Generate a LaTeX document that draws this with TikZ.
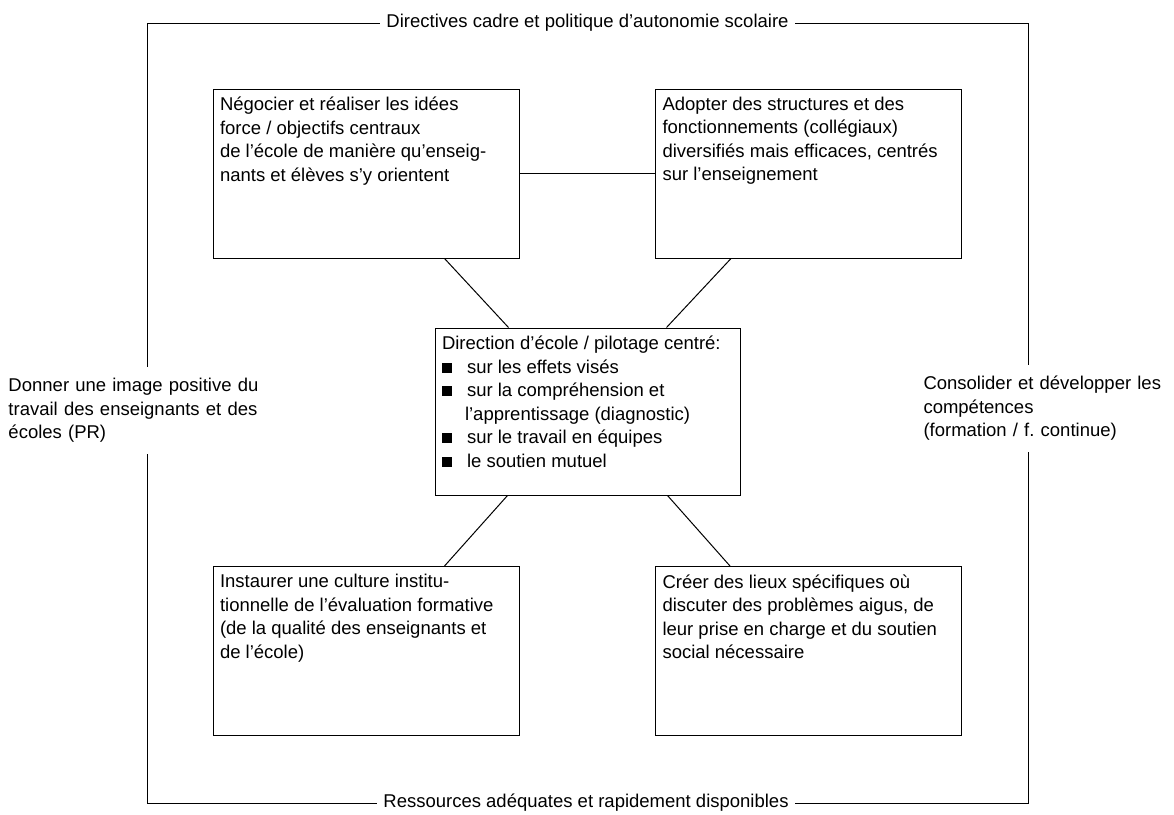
\documentclass[tikz,border=0pt]{standalone}
\usepackage{fontspec}
\setmainfont{Liberation Sans}
\newcommand{\boxtxt}[1]{\parbox[c][153pt][t]{292pt}{\raggedright #1}}
\newcommand{\sqitem}{\makebox[25pt][l]{\raisebox{0.5pt}{\rule{10pt}{10pt}}}}
\begin{document}
\begin{tikzpicture}[x=1pt,y=-1pt,line width=1pt,
    every node/.style={font=\fontsize{18.5pt}{23.5pt}\selectfont},
    box/.style={draw,rectangle,inner xsep=7pt,inner ysep=8pt},
    side/.style={anchor=west,text width=265pt,align=left,inner xsep=0pt,inner ysep=11pt}]
  \useasboundingbox (0,0) rectangle (1174,814);
  % frame corners
  \coordinate (ftl) at (147,23);
  \coordinate (ftr) at (1028,23);
  \coordinate (fbl) at (147,803);
  \coordinate (fbr) at (1028,803);
  % frame labels
  \node (cadre) at (587.5,23) [inner xsep=6pt] {Directives cadre et politique d’autonomie scolaire};
  \node (res) at (586,803) [inner xsep=6pt] {Ressources adéquates et rapidement disponibles};
  \node (image) [side] at (8,410.5) {Donner une image positive du\\ travail des enseignants et des\\ écoles (PR)};
  \node (comp) [side] at (923,408.5) {Consolider et développer les\\ compétences\\ (formation / f.\ continue)};
  \draw (cadre.west) -- (ftl) -- (ftl |- image.north);
  \draw (ftl |- image.south) -- (fbl) -- (res.west);
  \draw (res.east) -- (fbr) -- (fbr |- comp.south);
  \draw (fbr |- comp.north) -- (ftr) -- (cadre.east);
  % boxes
  \node (idees) [box] at (366,173.5) {\boxtxt{Négocier et réaliser les idées\\ force / objectifs centraux\\ de l’école de manière qu’enseig-\\ nants et élèves s’y orientent}};
  \node (struct) [box] at (808.5,173.5) {\boxtxt{Adopter des structures et des\\ fonctionnements (collégiaux)\\ diversifiés mais efficaces, centrés\\ sur l’enseignement}};
  \node (eval) [box] at (366,651) {\boxtxt{Instaurer une culture institu-\\ tionnelle de l’évaluation formative\\ (de la qualité des enseignants et\\ de l’école)}};
  \node (lieux) [box] at (808.5,651) {\boxtxt{Créer des lieux spécifiques où\\ discuter des problèmes aigus, de\\ leur prise en charge et du soutien\\ social nécessaire}};
  \node (dir) [box] at (587.5,411.5) {\parbox[c][151pt][t]{291pt}{\raggedright Direction d’école / pilotage centré:\\
    \sqitem sur les effets visés\\
    \sqitem sur la compréhension et\\ \hspace*{23pt}l’apprentissage (diagnostic)\\
    \sqitem sur le travail en équipes\\
    \sqitem le soutien mutuel}};
  % links
  \draw (idees) -- (struct);
  \draw ([xshift=232pt]idees.south west) -- ([xshift=74pt]dir.north west);
  \draw ([xshift=-231pt]struct.south east) -- ([xshift=-74pt]dir.north east);
  \draw ([xshift=73pt]dir.south west) -- ([xshift=232pt]eval.north west);
  \draw ([xshift=-73pt]dir.south east) -- ([xshift=-232pt]lieux.north east);
\end{tikzpicture}
\end{document}
